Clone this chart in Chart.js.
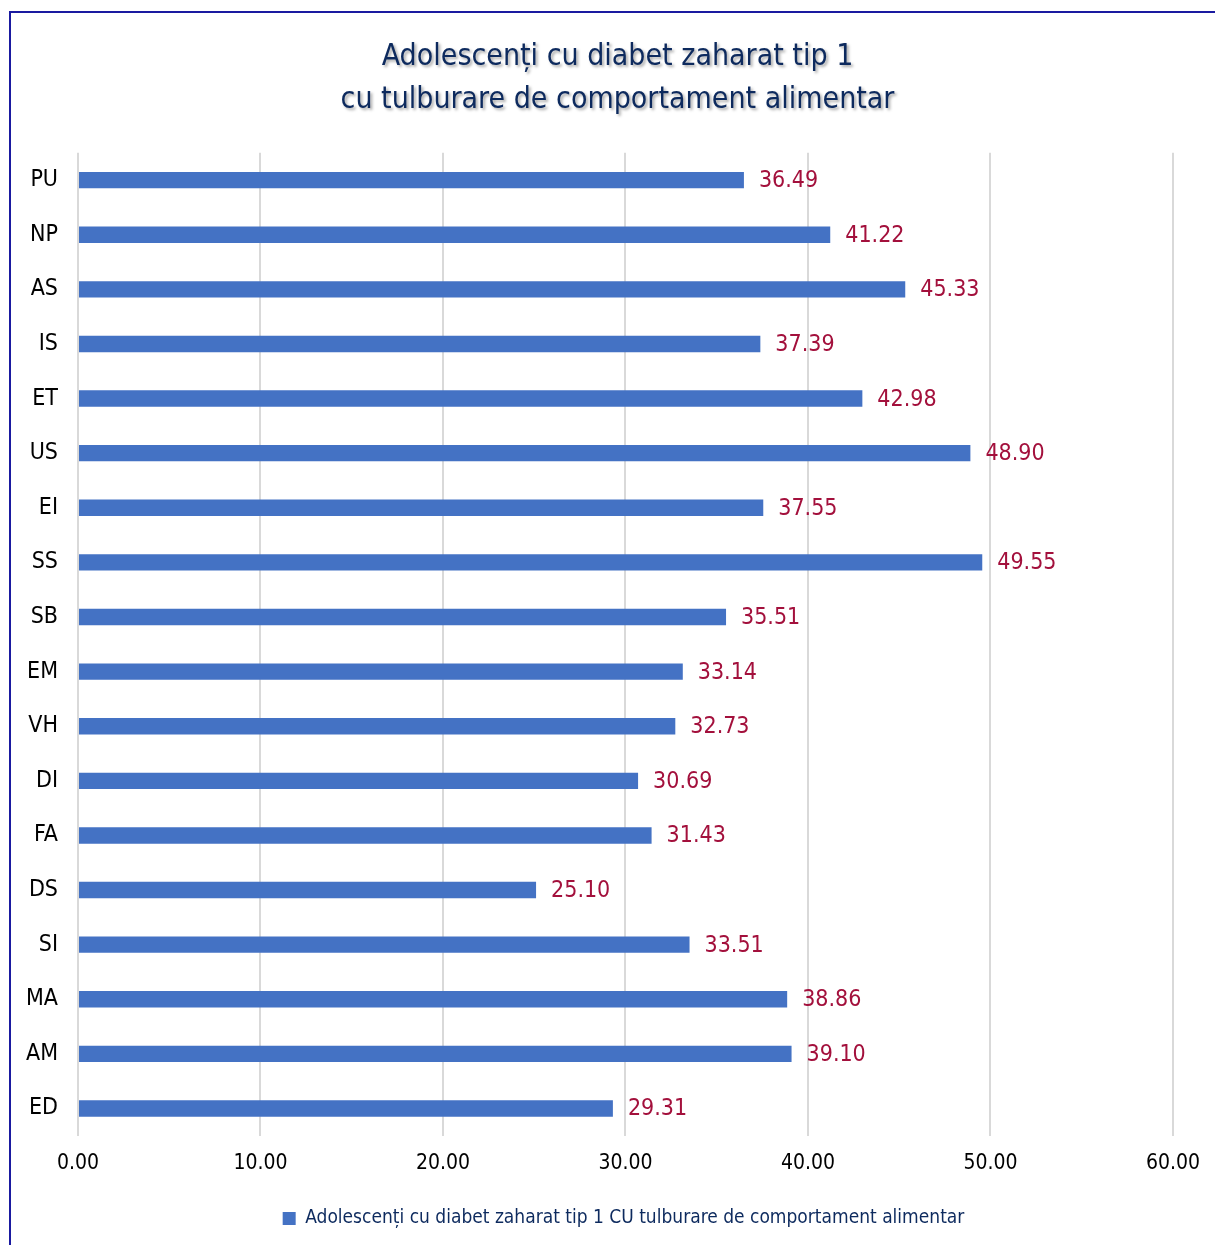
<!DOCTYPE html>
<html>
<head>
<meta charset="utf-8">
<script src="https://cdn.jsdelivr.net/npm/chart.js@4.4.1/dist/chart.umd.min.js"></script>
<style>
  body { margin: 0; background: #fff; }
  #frame {
    position: absolute; left: 9px; top: 11px; width: 1215px; height: 1245px;
    border-left: 2px solid #1a1aa0; border-top: 2px solid #1a1aa0;
  }
  #wrap { position: absolute; left: 0; top: 0; width: 1215px; height: 1245px; }
</style>
</head>
<body>
<div id="frame"></div>
<div id="wrap"><canvas id="bar-canvas"></canvas></div>
<script>
const categories = ["PU", "NP", "AS", "IS", "ET", "US", "EI", "SS", "SB", "EM", "VH", "DI", "FA", "DS", "SI", "MA", "AM", "ED"]
const values = [36.49, 41.22, 45.33, 37.39, 42.98, 48.90, 37.55, 49.55, 35.51, 33.14, 32.73, 30.69, 31.43, 25.10, 33.51, 38.86, 39.10, 29.31]
const titleLines = ["Adolescenți cu diabet zaharat tip 1", "cu tulburare de comportament alimentar"]
const seriesName = "Adolescenți cu diabet zaharat tip 1 CU tulburare de comportament alimentar"

const narrow = "'Liberation Sans Narrow', 'Arial Narrow', 'DejaVu Sans Condensed', sans-serif"

// value labels next to each bar
const barLabels = {
    id: "barLabels",
    afterDatasetsDraw(chart) {
        const ctx = chart.ctx
        const meta = chart.getDatasetMeta(0)
        ctx.save()
        ctx.font = "23px " + narrow
        ctx.fillStyle = "#a3103c"
        ctx.textAlign = "left"
        ctx.textBaseline = "middle"
        meta.data.forEach((bar, i) => {
            ctx.fillText(values[i].toFixed(2), bar.x + 15, bar.y + 1)
        })
        ctx.restore()
    }
}

// nudge a layout box sideways (title/legend sit a bit right of centre), optional shadow
const wrapDraw = (chart, block, dx, shadow) => {
    if (!block) return
    const draw = block.draw.bind(block)
    block.draw = function (area) {
        const ctx = chart.ctx
        ctx.save()
        ctx.translate(dx, 0)
        if (shadow) {
            ctx.shadowColor = "rgba(0,0,0,0.35)"
            ctx.shadowOffsetX = 2
            ctx.shadowOffsetY = 2
            ctx.shadowBlur = 3
        }
        draw(area)
        ctx.restore()
    }
}

const boxTweaks = {
    id: "boxTweaks",
    afterInit(chart) {
        wrapDraw(chart, chart.titleBlock, 27, true)
        wrapDraw(chart, chart.legend, 33, false)
    }
}

const barCanvas = document.getElementById("bar-canvas")

const barChart = new Chart(barCanvas, {
    type: "bar",
    data: {
        labels: categories,
        datasets: [{
            label: seriesName,
            data: values,
            backgroundColor: "#4472c4",
            categoryPercentage: 1,
            barPercentage: 0.3
        }]
    },
    options: {
        indexAxis: "y",
        responsive: true,
        maintainAspectRatio: false,
        animation: false,
        layout: { padding: { left: 6, right: 40, top: 36, bottom: 7 } },
        scales: {
            x: {
                min: 0,
                max: 60,
                ticks: {
                    stepSize: 10,
                    color: "#000",
                    font: { family: narrow, size: 21 },
                    padding: 15,
                    callback: v => v.toFixed(2)
                },
                grid: { color: "#d9d9d9", lineWidth: 2, drawTicks: false },
                border: { display: false }
            },
            y: {
                ticks: {
                    color: "#000",
                    font: { family: narrow, size: 23 },
                    padding: 20
                },
                grid: { display: false, drawTicks: false },
                border: { display: false }
            }
        },
        plugins: {
            title: {
                display: true,
                text: titleLines,
                color: "#0d2a5e",
                font: { family: narrow, size: 30, weight: "normal", lineHeight: 1.43 },
                padding: { top: 0, bottom: 31 }
            },
            legend: {
                position: "bottom",
                labels: {
                    color: "#0d2a5e",
                    font: { family: narrow, size: 19 },
                    boxWidth: 13,
                    boxHeight: 13,
                    padding: 18
                }
            },
            tooltip: { enabled: false }
        }
    },
    plugins: [barLabels, boxTweaks]
})
</script>
</body>
</html>
